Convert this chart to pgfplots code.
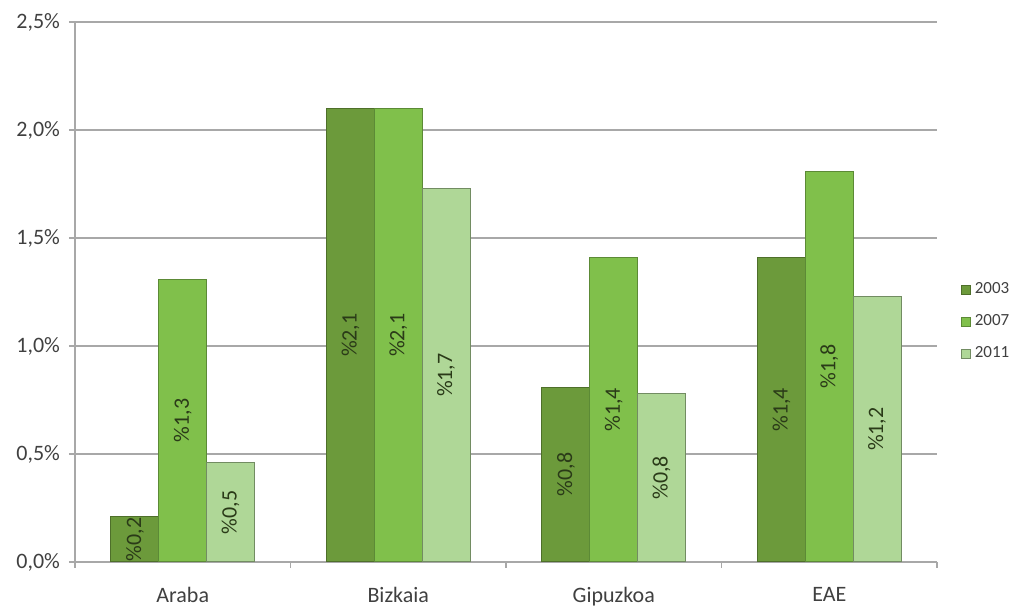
\documentclass[border=0pt]{standalone}
\usepackage{pgfplots}
\pgfplotsset{compat=1.18}
\usepackage{pgfplotstable}
\usepackage{fontspec}
\setmainfont{Carlito}
\definecolor{cA}{HTML}{6C9A3B}
\definecolor{cB}{HTML}{80C04B}
\definecolor{cC}{HTML}{AFD797}
\definecolor{txt}{HTML}{404040}
\definecolor{lab}{HTML}{2A3A18}
\definecolor{gridc}{HTML}{A8A8A8}

\pgfplotstableread{
x v lab
0 0.21 0.2
1 2.10 2.1
2 0.81 0.8
3 1.41 1.4
}\tA
\pgfplotstableread{
x v lab
0 1.31 1.3
1 2.10 2.1
2 1.41 1.4
3 1.81 1.8
}\tB
\pgfplotstableread{
x v lab
0 0.46 0.5
1 1.73 1.7
2 0.78 0.8
3 1.23 1.2
}\tC

\pgfplotsset{
  barlab/.style={draw=none, mark=none, forget plot,
    point meta=explicit,
    nodes near coords={\%\pgfmathprintnumber[fixed,fixed zerofill,precision=1,use comma]{\pgfplotspointmeta}},
    every node near coord/.append style={rotate=90, anchor=center, font=\fontsize{11}{12}\selectfont, text=lab}},
}

\begin{document}
\begin{tikzpicture}
\begin{axis}[
  /pgf/number format/assume math mode=true,
  scale only axis, width=431pt, height=270pt,
  xmin=-0.5, xmax=3.5, ymin=0, ymax=2.5,
  clip=false,
  ytick={0,0.5,1,1.5,2,2.5},
  yticklabel={\pgfmathprintnumber[fixed,fixed zerofill,precision=1,use comma]{\tick}\%},
  axis x line*=bottom, axis y line*=left,
  axis line style={draw=gridc, line width=0.7pt},
  ymajorgrids, grid style={draw=gridc, line width=0.7pt},
  xtick={0,1,2,3}, xticklabels={Araba,Bizkaia,Gipuzkoa,EAE},
  minor xtick={-0.5,0.5,1.5,2.5,3.5},
  tick align=outside,
  major x tick style={draw=none},
  major tick length=3pt, minor tick length=3pt,
  every tick/.style={draw=gridc, line width=0.7pt},
  minor tick style={draw=gridc, line width=0.7pt},
  yticklabel style={font=\fontsize{11}{12}\selectfont, text=txt, xshift=-1pt},
  xticklabel style={font=\fontsize{11}{12}\selectfont, text=txt, yshift=-6pt},
  legend style={at={(rel axis cs:1.02,0.445)}, anchor=west, draw=none, fill=none,
    font=\fontsize{8.5}{10}\selectfont, text=txt, row sep=5pt,
    legend cell align=left},
  legend image code/.code={\draw[#1] (0pt,-2.3pt) rectangle (4.6pt,2.3pt);},
]
\addplot[ybar, bar width=0.222, bar shift=-0.222, fill=cA, draw=cA!72!black, line width=0.5pt] table[x=x,y=v] {\tA};
\addlegendentry{2003}
\addplot[ybar, bar width=0.222, bar shift=0, fill=cB, draw=cB!72!black, line width=0.5pt] table[x=x,y=v] {\tB};
\addlegendentry{2007}
\addplot[ybar, bar width=0.222, bar shift=0.222, fill=cC, draw=cC!65!black, line width=0.5pt] table[x=x,y=v] {\tC};
\addlegendentry{2011}

\addplot[barlab] table[x expr=\thisrow{x}-0.222, y expr=\thisrow{v}/2, meta=lab] {\tA};
\addplot[barlab] table[x expr=\thisrow{x}, y expr=\thisrow{v}/2, meta=lab] {\tB};
\addplot[barlab] table[x expr=\thisrow{x}+0.222, y expr=\thisrow{v}/2, meta=lab] {\tC};

\path (rel axis cs:0,0) ++(-37.5pt,-23pt) coordinate (bbA);
\path (rel axis cs:1,1) ++(45.5pt,11pt) coordinate (bbB);
\path (bbA) rectangle (bbB);
\end{axis}
\end{tikzpicture}
\end{document}
